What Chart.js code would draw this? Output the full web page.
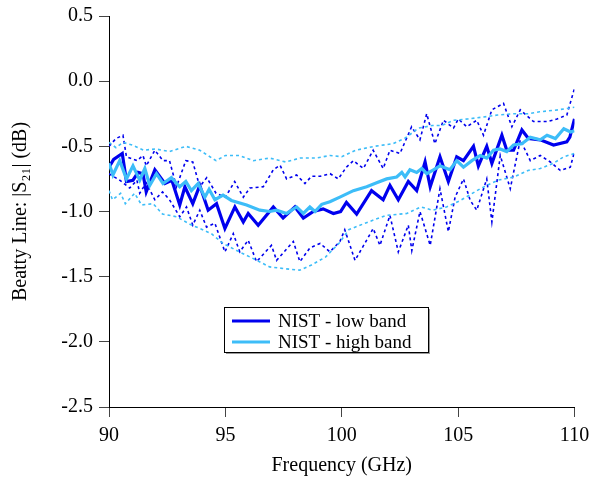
<!DOCTYPE html>
<html>
<head>
<meta charset="utf-8">
<script src="https://cdn.jsdelivr.net/npm/chart.js@4.4.0/dist/chart.umd.min.js"></script>
<style>
  html, body { margin: 0; padding: 0; background: #fff; }
  #wrap { width: 593px; height: 481px; }
</style>
</head>
<body>
<div id="wrap"><canvas id="mycanvas" width="593" height="481"></canvas></div>
<script>
// frequency (GHz), |S21| (dB)
var lowBand = [[90.0,-0.66],[90.2,-0.60],[90.57,-0.555],[90.75,-0.77],[91.03,-0.76],[91.25,-0.70],[91.46,-0.71],[91.6,-0.85],[91.97,-0.68],[92.4,-0.785],[92.7,-0.76],[93.04,-0.95],[93.26,-0.81],[93.6,-0.94],[93.9,-0.80],[94.26,-0.99],[94.62,-0.94],[94.98,-1.13],[95.41,-0.965],[95.77,-1.08],[95.98,-1.015],[96.41,-1.105],[97.06,-0.965],[97.48,-1.05],[97.99,-0.965],[98.35,-1.05],[98.78,-1.00],[99.2,-0.98],[99.64,-1.015],[99.95,-1.00],[100.2,-0.93],[100.64,-1.02],[101.28,-0.84],[101.78,-0.91],[102.07,-0.80],[102.43,-0.91],[102.86,-0.77],[103.22,-0.84],[103.58,-0.62],[103.8,-0.81],[104.22,-0.58],[104.58,-0.77],[104.94,-0.58],[105.23,-0.61],[105.66,-0.50],[105.87,-0.65],[106.23,-0.50],[106.45,-0.63],[106.88,-0.415],[107.09,-0.53],[107.38,-0.53],[107.74,-0.375],[108.02,-0.44],[108.53,-0.45],[109.1,-0.49],[109.67,-0.465],[109.8,-0.43],[110.0,-0.29]];
var lowUpper = [[90.0,-0.50],[90.3,-0.44],[90.6,-0.415],[90.75,-0.58],[91.2,-0.61],[91.46,-0.57],[91.6,-0.65],[91.97,-0.53],[92.32,-0.61],[92.6,-0.61],[92.9,-0.81],[93.3,-0.61],[93.6,-0.62],[93.9,-0.81],[94.2,-0.74],[94.6,-0.86],[95.0,-0.89],[95.4,-0.77],[95.77,-0.89],[96.05,-0.82],[96.63,-0.81],[97.06,-0.68],[97.35,-0.645],[97.63,-0.75],[98.06,-0.72],[98.42,-0.785],[98.7,-0.73],[99.07,-0.73],[99.5,-0.71],[99.85,-0.75],[100.2,-0.66],[100.5,-0.61],[100.93,-0.67],[101.35,-0.53],[101.78,-0.67],[102.07,-0.53],[102.5,-0.555],[103.0,-0.35],[103.36,-0.45],[103.65,-0.25],[104.0,-0.48],[104.37,-0.30],[104.8,-0.36],[105.01,-0.29],[105.37,-0.35],[105.8,-0.30],[106.09,-0.415],[106.45,-0.22],[106.95,-0.17],[107.31,-0.35],[107.67,-0.22],[108.24,-0.31],[108.82,-0.31],[109.25,-0.29],[109.67,-0.26],[110.0,-0.055]];
var lowLower = [[90.0,-0.71],[90.46,-0.76],[90.89,-0.82],[91.2,-0.76],[91.32,-0.86],[91.6,-0.78],[91.97,-0.91],[92.3,-0.85],[92.6,-0.91],[93.04,-1.04],[93.33,-0.965],[93.6,-1.105],[93.9,-0.99],[94.19,-1.12],[94.55,-1.09],[94.98,-1.31],[95.34,-1.17],[95.62,-1.31],[95.98,-1.22],[96.34,-1.385],[96.98,-1.26],[97.2,-1.375],[97.92,-1.23],[98.2,-1.385],[98.63,-1.28],[99.07,-1.245],[99.49,-1.31],[99.92,-1.23],[100.13,-1.14],[100.57,-1.375],[101.07,-1.22],[101.35,-1.13],[101.64,-1.26],[102.07,-1.03],[102.43,-1.31],[102.86,-1.105],[103.01,-1.30],[103.36,-1.00],[103.8,-1.26],[104.22,-0.825],[104.58,-1.155],[104.87,-0.89],[105.23,-0.75],[105.52,-0.915],[105.8,-0.99],[106.23,-0.75],[106.45,-1.08],[106.81,-0.57],[107.24,-0.825],[107.67,-0.45],[108.1,-0.61],[108.53,-0.57],[108.96,-0.62],[109.39,-0.685],[109.82,-0.66],[110.0,-0.54]];
var highBand = [[90.0,-0.63],[90.17,-0.72],[90.46,-0.61],[90.75,-0.75],[91.03,-0.65],[91.32,-0.76],[91.54,-0.67],[91.75,-0.80],[92.04,-0.71],[92.32,-0.785],[92.68,-0.74],[93.04,-0.81],[93.3,-0.77],[93.54,-0.84],[93.83,-0.785],[94.12,-0.89],[94.3,-0.83],[94.55,-0.91],[94.9,-0.875],[95.26,-0.915],[95.91,-0.95],[96.48,-0.99],[96.91,-1.00],[97.2,-0.99],[97.63,-1.015],[98.06,-0.965],[98.35,-1.015],[98.63,-0.965],[98.85,-1.0],[99.14,-0.945],[99.49,-0.925],[99.92,-0.89],[100.5,-0.84],[101.07,-0.81],[101.5,-0.78],[101.93,-0.75],[102.36,-0.735],[102.58,-0.70],[102.72,-0.735],[102.93,-0.68],[103.22,-0.70],[103.44,-0.67],[103.65,-0.71],[103.94,-0.68],[104.22,-0.65],[104.65,-0.68],[104.94,-0.61],[105.23,-0.66],[105.59,-0.61],[105.95,-0.57],[106.23,-0.59],[106.52,-0.53],[106.8,-0.52],[107.09,-0.54],[107.38,-0.49],[107.74,-0.48],[108.1,-0.43],[108.53,-0.45],[108.82,-0.415],[109.18,-0.44],[109.54,-0.365],[109.83,-0.39],[110.0,-0.38]];
var highUpper = [[90.0,-0.47],[90.3,-0.51],[90.6,-0.47],[91.0,-0.49],[91.5,-0.53],[92.0,-0.52],[92.6,-0.54],[93.3,-0.50],[93.9,-0.53],[94.6,-0.61],[95.0,-0.57],[95.6,-0.57],[96.2,-0.61],[96.9,-0.59],[97.6,-0.62],[98.2,-0.59],[98.9,-0.59],[99.5,-0.57],[100.0,-0.58],[100.6,-0.53],[101.4,-0.50],[102.2,-0.48],[102.7,-0.44],[103.3,-0.36],[103.9,-0.34],[104.3,-0.34],[104.8,-0.30],[105.4,-0.29],[106.1,-0.275],[106.7,-0.26],[107.4,-0.25],[108.0,-0.25],[108.5,-0.235],[109.3,-0.22],[110.0,-0.20]];
var highLower = [[90.0,-0.84],[90.15,-0.91],[90.5,-0.86],[90.7,-0.94],[91.1,-0.86],[91.4,-0.95],[91.9,-0.94],[92.3,-1.02],[92.9,-1.04],[93.5,-1.10],[93.9,-1.13],[94.4,-1.17],[94.9,-1.245],[95.6,-1.31],[96.3,-1.37],[96.9,-1.425],[97.6,-1.44],[98.2,-1.45],[98.7,-1.41],[99.3,-1.35],[99.9,-1.24],[100.3,-1.14],[101.0,-1.09],[101.9,-1.03],[102.8,-1.015],[103.4,-0.965],[103.9,-0.99],[104.5,-0.965],[105.1,-0.915],[105.95,-0.825],[106.7,-0.76],[107.4,-0.735],[108.0,-0.685],[108.53,-0.67],[109.1,-0.63],[109.54,-0.58],[110.0,-0.555]];

var xTicks = [90, 95, 100, 105, 110];
var yTicks = [-2.5, -2.0, -1.5, -1.0, -0.5, 0.0, 0.5];
var seriesNames = ['NIST - low band', 'NIST - high band'];

var darkBlue = '#0000ee';
var lightBlue = '#3dbdf8';
var serif = '"Liberation Serif", "Times New Roman", serif';

function pts(arr){
	return arr.map(function(p){ return {x: p[0], y: p[1]}; });
}

var datasets = [
	{ label: seriesNames[1], data: pts(highBand), borderColor: lightBlue, borderWidth: 3.2, order: 0 },
	{ label: seriesNames[0], data: pts(lowBand), borderColor: darkBlue, borderWidth: 3.2, order: 1 },
	{ label: '', data: pts(highUpper), borderColor: lightBlue, borderWidth: 1.6, borderDash: [3, 3], order: 2 },
	{ label: '', data: pts(highLower), borderColor: lightBlue, borderWidth: 1.6, borderDash: [3, 3], order: 2 },
	{ label: '', data: pts(lowUpper), borderColor: darkBlue, borderWidth: 1.6, borderDash: [3, 3], order: 3 },
	{ label: '', data: pts(lowLower), borderColor: darkBlue, borderWidth: 1.6, borderDash: [3, 3], order: 3 }
];
datasets.forEach(function(d){
	d.pointRadius = 0;
	d.fill = false;
	d.tension = 0;
});

// boxed legend in the middle of the plot
var boxLegend = {
	id: 'boxLegend',
	afterDraw: function(chart){
		var ctx = chart.ctx;
		var x0 = 224, y0 = 307, w = 204, h = 45;
		ctx.save();
		ctx.fillStyle = '#999';
		ctx.fillRect(x0 + 2, y0 + 2, w, h);
		ctx.fillStyle = '#fff';
		ctx.fillRect(x0, y0, w, h);
		ctx.strokeStyle = '#000';
		ctx.lineWidth = 1;
		ctx.strokeRect(x0 + 0.5, y0 + 0.5, w, h);
		var keys = [chart.data.datasets[1], chart.data.datasets[0]];
		ctx.font = '19px ' + serif;
		ctx.textBaseline = 'middle';
		keys.forEach(function(d, i){
			var yy = y0 + 14 + i * 21;
			ctx.strokeStyle = d.borderColor;
			ctx.lineWidth = 3;
			ctx.beginPath();
			ctx.moveTo(x0 + 8, yy);
			ctx.lineTo(x0 + 46, yy);
			ctx.stroke();
			ctx.fillStyle = '#000';
			ctx.fillText(d.label, x0 + 54, yy + 1);
		});
		ctx.restore();
	}
};

var ctx = document.getElementById('mycanvas');
var chart = new Chart(ctx, {
	type: 'line',
	data: { datasets: datasets },
	plugins: [boxLegend],
	options: {
		responsive: false,
		animation: false,
		layout: { padding: { left: 0, right: 18.5, top: 16, bottom: 3 } },
		plugins: { legend: { display: false }, tooltip: { enabled: false } },
		scales: {
			x: {
				type: 'linear',
				min: 90, max: 110,
				afterBuildTicks: function(s){ s.ticks = xTicks.map(function(v){ return {value: v}; }); },
				afterFit: function(s){ s.height = 74 - 3; s.paddingLeft = 0; s.paddingRight = 0; },
				grid: { drawOnChartArea: false, color: '#000', tickLength: 10, tickColor: '#444' },
				border: { color: '#000', width: 1 },
				ticks: { color: '#000', font: { family: serif, size: 20 }, padding: 7, maxRotation: 0 },
				title: { display: true, text: 'Frequency (GHz)', color: '#000', font: { family: serif, size: 20 }, padding: 0 }
			},
			y: {
				min: -2.5, max: 0.5,
				afterBuildTicks: function(s){ s.ticks = yTicks.map(function(v){ return {value: v}; }); },
				afterFit: function(s){ s.width = 109; s.paddingTop = 0; s.paddingBottom = 0; },
				grid: { drawOnChartArea: false, color: '#000', tickLength: 10, tickColor: '#444' },
				border: { color: '#000', width: 1 },
				ticks: { color: '#000', font: { family: serif, size: 20 }, padding: 6, callback: function(v){ return v.toFixed(1); } },
				title: { display: true, text: 'Beatty Line: |S\u2082\u2081| (dB)', color: '#000', font: { family: serif, size: 20 }, padding: { top: 9, bottom: 0 } }
			}
		}
	}
});
</script>
</body>
</html>
